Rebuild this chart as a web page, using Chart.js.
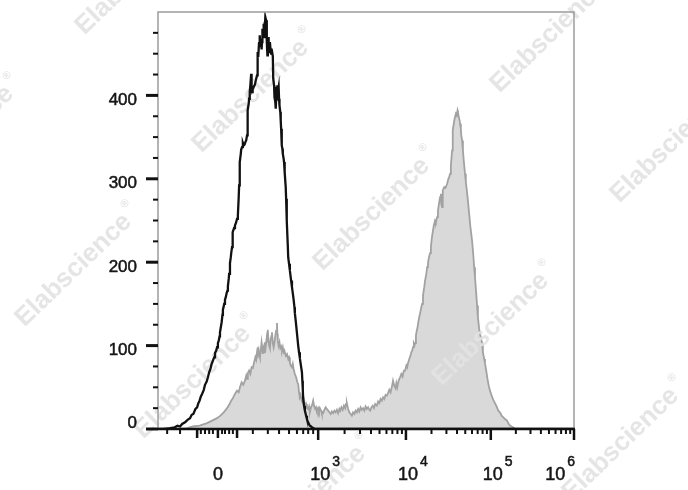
<!DOCTYPE html>
<html><head><meta charset="utf-8">
<script src="https://cdn.jsdelivr.net/npm/chart.js@4"></script>
<style>html,body{margin:0;padding:0;background:#fff;}canvas{display:block;}</style>
</head><body>
<canvas id="c" width="688" height="490"></canvas>
<script>
// x = display position on the biexponential axis (0 = left edge, 1000 = right edge)
const controlX = [0,10,20,29,40,47,53,58,65,71,77,81,85,90,94,97,100,103,106,110,113,117,120,123,126,129,132,135,137,140,142,144,146,148,149,151,153,155,156,158,159,161,163,165,167,168,170,171,173,175,176,178,179,180,183,185,188,190,192,194,195,196,197,199,200,202,204,206,208,210,212,214,215,216,218,219,220,221,222,224,225,226,227,228,230,233,235,238,239,240,241,243,244,245,246,248,249,250,251,253,254,255,256,257,258,260,261,262,263,264,265,266,267,269,270,272,273,276,277,279,280,282,283,284,285,286,287,288,290,291,292,294,295,296,297,298,299,300,302,303,304,305,307,308,309,310,312,313,315,317,320,322,324,326,328,329,331,333,335,337,339,341,343,346,347,348,349,351,353,356,358,360,362,365,368,370,374,377,383,389,1000];
const controlCount = [0,0,0.5,1,2,4,3,6,8,11,13,17,18,24,26,31,34,39,42,47,53,57,62,68,72,78,82,86,91,94,98,103,106,111,116,122,128,137,143,147,150,155,158,163,166,171,180,186,199,206,211,218,228,236,241,244,248,252,256,278,292,305,320,330,335,338,343,340,341,344,346,352,368,382,390,396,400,404,412,426,410,404,410,407,410,413,418,424,440,452,446,464,458,472,460,468,455,464,480,474,486,470,488,478,494,490,472,465,448,458,470,460,452,464,458,450,456,447,420,412,398,392,384,395,410,402,412,404,410,396,388,380,370,360,350,340,336,330,324,320,316,308,290,276,262,250,220,206,198,190,178,170,163,155,146,139,130,120,110,100,92,85,78,68,58,48,36,28,22,16,12,9,7,4,3,2,1,0,0,0,0];
const stainedX = [0,30,53,70,84,100,118,130,142,150,158,166,172,176,180,185,190,194,197,201,205,209,212,214,216,219,222,225,228,231,234,236,238,239,240,242,244,245,247,249,250,252,254,255,257,259,261,262,264,265,267,269,271,273,274,276,278,280,282,284,286,287,288,290,292,294,296,298,300,302,304,307,310,313,315,317,319,322,324,326,329,332,335,337,339,341,343,346,349,351,354,356,358,361,363,365,368,371,373,375,378,380,382,385,387,389,392,394,397,400,403,406,409,412,415,418,421,424,427,430,433,436,438,441,444,447,450,452,454,457,460,463,466,469,472,475,478,481,484,487,490,493,496,499,502,505,508,510,513,516,519,522,526,529,532,535,538,541,544,547,550,553,556,559,562,565,568,571,573,575,578,580,582,585,588,591,594,597,599,601,604,607,609,611,613,615,617,618,620,622,624,625,628,631,633,635,637,640,642,645,647,649,651,654,656,658,661,663,666,668,671,673,676,678,680,681,683,684,685,688,691,695,698,700,702,704,706,707,708,709,711,713,716,718,720,721,723,725,726,728,729,731,733,735,738,740,742,745,748,751,755,758,760,762,765,767,769,772,775,779,781,784,786,789,792,795,798,802,806,810,814,818,822,826,830,834,839,842,846,850,853,856,860,1000];
const stainedCount = [0,0,0.5,1,3,4,7,10,13,16,20,25,30,34,37,42,46,44,50,56,53,58,64,60,67,70,66,74,73,80,86,83,92,98,90,95,88,86,94,104,100,90,96,92,104,99,108,104,119,110,100,97,108,112,116,103,98,104,112,118,127,114,106,100,104,97,99,94,98,92,94,88,90,84,86,80,76,74,78,72,66,62,56,54,44,38,40,33,31,35,28,30,25,24,27,20,26,30,34,28,24,26,22,25,21,25,22,18,19,23,26,24,22,20,18,21,19,22,20,23,19,24,22,26,23,28,25,30,31,24,20,18,16,20,18,22,20,24,21,26,23,25,22,27,24,26,23,22,26,28,25,30,28,33,31,36,34,38,36,41,40,43,47,44,50,58,52,49,55,50,57,60,62,66,63,70,70,76,74,79,84,88,92,94,98,103,101,103,112,118,122,126,134,141,146,150,160,170,178,186,194,199,205,211,218,228,238,244,250,248,254,262,272,278,282,270,266,276,286,290,289,294,300,302,306,316,328,334,346,358,366,372,378,376,382,380,374,370,366,360,352,346,334,322,306,296,288,274,258,242,226,208,194,182,162,148,134,120,112,103,92,84,79,70,60,52,46,40,35,31,27,22,20,16,14,12,10,7,4,3,2,1,0,0];

const yMajorTicks = [0,100,200,300,400];
const yMinorTicks = [25,50,75,125,150,175,225,250,275,325,350,375,425,450,475];
const xTickValues = [144,385,596,800,1000];
const xTickLabels = ['0','10³','10⁴','10⁵','10⁶'];
const xLinearTicks = [22,53,94,103,113,123,132,154,161,171,180,190];
const xLinearLongTicks = [94,144,190];
const xLowDecadeTicks = [228,264,291,315,334,349,361,373];
const watermarkText = 'Elabscience';

const FONT = '"Liberation Sans", Arial, sans-serif';
const SUP = {'⁰':'0','¹':'1','²':'2','³':'3','⁴':'4','⁵':'5','⁶':'6','⁷':'7','⁸':'8','⁹':'9'};

function drawWatermarks(ctx){
  const spots = [[138,-26],[-40,138],[255,92],[553,32],[376,210],[673,142],[78,266],[495,325],[197,378],[312,498],[625,440]];
  ctx.save();
  spots.forEach(([cx,cy])=>{
    ctx.save();
    ctx.translate(cx,cy);
    ctx.rotate(-44*Math.PI/180);
    ctx.fillStyle='rgba(226,226,226,0.9)';
    ctx.font='bold 26px '+FONT;
    ctx.textAlign='center';ctx.textBaseline='middle';
    ctx.fillText(watermarkText,-6,0);
    const w=ctx.measureText(watermarkText).width;
    ctx.font='bold 11px '+FONT;
    ctx.fillText('®',w/2+2,-12);
    ctx.restore();
  });
  ctx.restore();
}

function heavyText(ctx,t,x,y){ctx.fillText(t,x,y);ctx.strokeText(t,x,y);}

const axesPlugin = {
  id:'flowAxes',
  afterDatasetDraw(chart,args){ if(args.index===1) drawWatermarks(chart.ctx); },
  afterDraw(chart){
    const ctx=chart.ctx, ca=chart.chartArea, xs=chart.scales.x, ys=chart.scales.y;
    ctx.save();
    ctx.strokeStyle='#9c9c9c'; ctx.lineWidth=1.5;
    ctx.beginPath();
    ctx.moveTo(ca.left,ca.bottom); ctx.lineTo(ca.left,ca.top); ctx.lineTo(ca.right,ca.top); ctx.lineTo(ca.right,ca.bottom);
    ctx.stroke();
    ctx.strokeStyle='#111'; ctx.lineWidth=2.5;
    ctx.beginPath(); ctx.moveTo(ca.left,ca.bottom); ctx.lineTo(ca.right+1,ca.bottom); ctx.stroke();
    ctx.lineWidth=3;
    yMajorTicks.forEach(v=>{const y=ys.getPixelForValue(v);ctx.beginPath();ctx.moveTo(ca.left-12,y);ctx.lineTo(ca.left,y);ctx.stroke();});
    ctx.lineWidth=2;
    yMinorTicks.forEach(v=>{const y=ys.getPixelForValue(v);ctx.beginPath();ctx.moveTo(ca.left-5,y);ctx.lineTo(ca.left,y);ctx.stroke();});
    const xt=(v,len,w)=>{const x=xs.getPixelForValue(v);ctx.lineWidth=w;ctx.beginPath();ctx.moveTo(x,ca.bottom);ctx.lineTo(x,ca.bottom+len);ctx.stroke();};
    xTickValues.slice(1).forEach(v=>xt(v,11,2.5));
    xLinearTicks.forEach(v=>xt(v,5,2));
    xLinearLongTicks.forEach(v=>xt(v,9,2.5));
    xLowDecadeTicks.forEach(v=>xt(v,5,2));
    for(let d=1;d<xTickValues.length-1;d++){
      const a=xTickValues[d], b=xTickValues[d+1];
      for(let k=2;k<=9;k++) xt(a+(b-a)*Math.log10(k),5,2);
    }
    ctx.fillStyle='#151515'; ctx.strokeStyle='#151515'; ctx.lineWidth=0.5;
    ctx.font='17px '+FONT; ctx.textAlign='right'; ctx.textBaseline='middle';
    yMajorTicks.forEach(v=>{const y=ys.getPixelForValue(v);heavyText(ctx,String(v),ca.left-21,y+(v===0?-6:5));});
    ctx.textBaseline='alphabetic';
    xTickValues.forEach((v,i)=>{
      const px=xs.getPixelForValue(v); const lab=xTickLabels[i];
      if(lab==='0'){ctx.font='18px '+FONT;ctx.textAlign='center';heavyText(ctx,lab,px,480);return;}
      const base=lab.slice(0,2); const exp=lab.slice(2).split('').map(c=>SUP[c]||c).join('');
      ctx.textAlign='left';
      ctx.font='18px '+FONT; const w1=ctx.measureText(base).width;
      ctx.font='14px '+FONT; const w2=ctx.measureText(exp).width;
      const left = (i===xTickValues.length-1) ? px-(w1+2+w2)+1 : px-8;
      ctx.font='18px '+FONT; heavyText(ctx,base,left,480);
      ctx.font='14px '+FONT; heavyText(ctx,exp,left+w1+2,466);
    });
    ctx.restore();
  }
};

new Chart(document.getElementById('c'),{
  type:'line',
  data:{datasets:[
    {label:'Isotype control',data:controlX.map((x,i)=>({x:x,y:controlCount[i]})),borderColor:'#111111',borderWidth:2.3,pointRadius:0,fill:false,tension:0},
    {label:'Stained',data:stainedX.map((x,i)=>({x:x,y:stainedCount[i]})),borderColor:'#a2a2a2',borderWidth:1.8,backgroundColor:'#d9d9d9',fill:'origin',pointRadius:0,tension:0}
  ]},
  options:{
    responsive:false,animation:false,events:[],
    layout:{padding:{left:158,top:12,right:114,bottom:61}},
    plugins:{legend:{display:false},tooltip:{enabled:false}},
    scales:{
      x:{type:'linear',min:0,max:1000,grid:{display:false,drawTicks:false},border:{display:false},ticks:{display:false}},
      y:{type:'linear',min:0,max:500,grid:{display:false,drawTicks:false},border:{display:false},ticks:{display:false}}
    }
  },
  plugins:[axesPlugin]
});
</script>
</body></html>
